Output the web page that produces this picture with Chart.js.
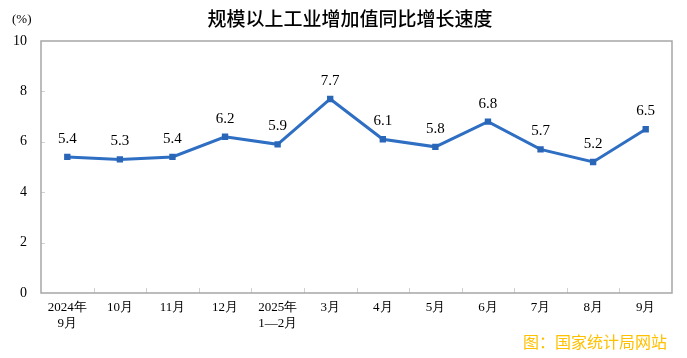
<!DOCTYPE html>
<html><head><meta charset="utf-8">
<script src="https://cdn.jsdelivr.net/npm/chart.js@4/dist/chart.umd.min.js"></script>
<style>
html,body{margin:0;padding:0;background:#fff;}
#wrap{position:relative;width:687px;height:358px;}
#title{position:absolute;left:0;width:700px;top:4px;text-align:center;font-family:"Noto Sans CJK SC",sans-serif;font-size:19px;font-weight:500;color:#000;}
#unit{position:absolute;left:12px;top:11px;font-family:"Liberation Serif",serif;font-size:13px;color:#000;}
#src{position:absolute;left:523px;top:329px;font-family:"Noto Sans CJK SC",sans-serif;font-size:16px;color:#FFC000;}
canvas{position:absolute;left:0;top:0;}
</style></head>
<body><div id="wrap">
<canvas id="c" width="687" height="358"></canvas>
<div id="title">规模以上工业增加值同比增长速度</div>
<div id="unit">(%)</div>
<div id="src">图：国家统计局网站</div>
</div>
<script>
const categories = [['2024年','9月'],'10月','11月','12月',['2025年','1—2月'],'3月','4月','5月','6月','7月','8月','9月'];
const growth = [5.4, 5.3, 5.4, 6.2, 5.9, 7.7, 6.1, 5.8, 6.8, 5.7, 5.2, 6.5];
const yTicks = [0, 2, 4, 6, 8, 10];

const frameColor = '#a6a6a6';
const lineColor = '#2f6fc3';

const framePlugin = {
  id: 'frame',
  afterDraw(chart) {
    const ctx = chart.ctx, a = chart.chartArea;
    const xs = chart.scales.x, ys = chart.scales.y;
    ctx.save();
    ctx.strokeStyle = '#d0d0d0';
    ctx.lineWidth = 1;
    ctx.beginPath();
    yTicks.forEach(v => {
      if (v === 0 || v === 10) return;
      const y = Math.round(ys.getPixelForValue(v)) + 0.5;
      ctx.moveTo(a.left, y); ctx.lineTo(a.left + 4, y);
    });
    for (let i = 1; i < categories.length; i++) {
      const x = Math.round((xs.getPixelForValue(i - 1) + xs.getPixelForValue(i)) / 2) + 0.5;
      ctx.moveTo(x, a.bottom); ctx.lineTo(x, a.bottom - 5);
    }
    ctx.stroke();
    ctx.strokeStyle = frameColor;
    ctx.lineWidth = 1.5;
    ctx.strokeRect(a.left, a.top, a.right - a.left, a.bottom - a.top);
    const meta = chart.getDatasetMeta(0);
    ctx.fillStyle = '#000';
    ctx.font = '15px "Liberation Serif", serif';
    ctx.textAlign = 'center';
    ctx.textBaseline = 'middle';
    meta.data.forEach((pt, i) => {
      ctx.fillText(growth[i].toFixed(1), pt.x, pt.y - 18);
    });
    ctx.restore();
  }
};

new Chart(document.getElementById('c'), {
  type: 'line',
  data: {
    labels: categories,
    datasets: [{
      data: growth,
      borderColor: lineColor,
      backgroundColor: '#2a66b8',
      borderWidth: 3,
      pointStyle: 'rect',
      pointRadius: 4.5,
      pointBorderWidth: 0,
      tension: 0
    }]
  },
  options: {
    responsive: false,
    animation: false,
    layout: { padding: { top: 41, right: 15, left: 0, bottom: 0 } },
    plugins: { legend: { display: false }, tooltip: { enabled: false } },
    scales: {
      x: {
        offset: true,
        grid: { display: false, drawTicks: false },
        border: { display: false },
        ticks: { color: '#000', font: { family: '"Liberation Serif", serif', size: 13 }, padding: 7, maxRotation: 0, autoSkip: false },
        afterFit(s) { s.height = 65; }
      },
      y: {
        min: 0, max: 10,
        afterBuildTicks(s) { s.ticks = yTicks.map(v => ({ value: v })); },
        grid: { display: false, drawTicks: false },
        border: { display: false },
        ticks: { color: '#000', font: { family: '"Liberation Serif", serif', size: 14 }, padding: 14 },
        afterFit(s) { s.width = 41; }
      }
    }
  },
  plugins: [framePlugin]
});
</script>
</body></html>
